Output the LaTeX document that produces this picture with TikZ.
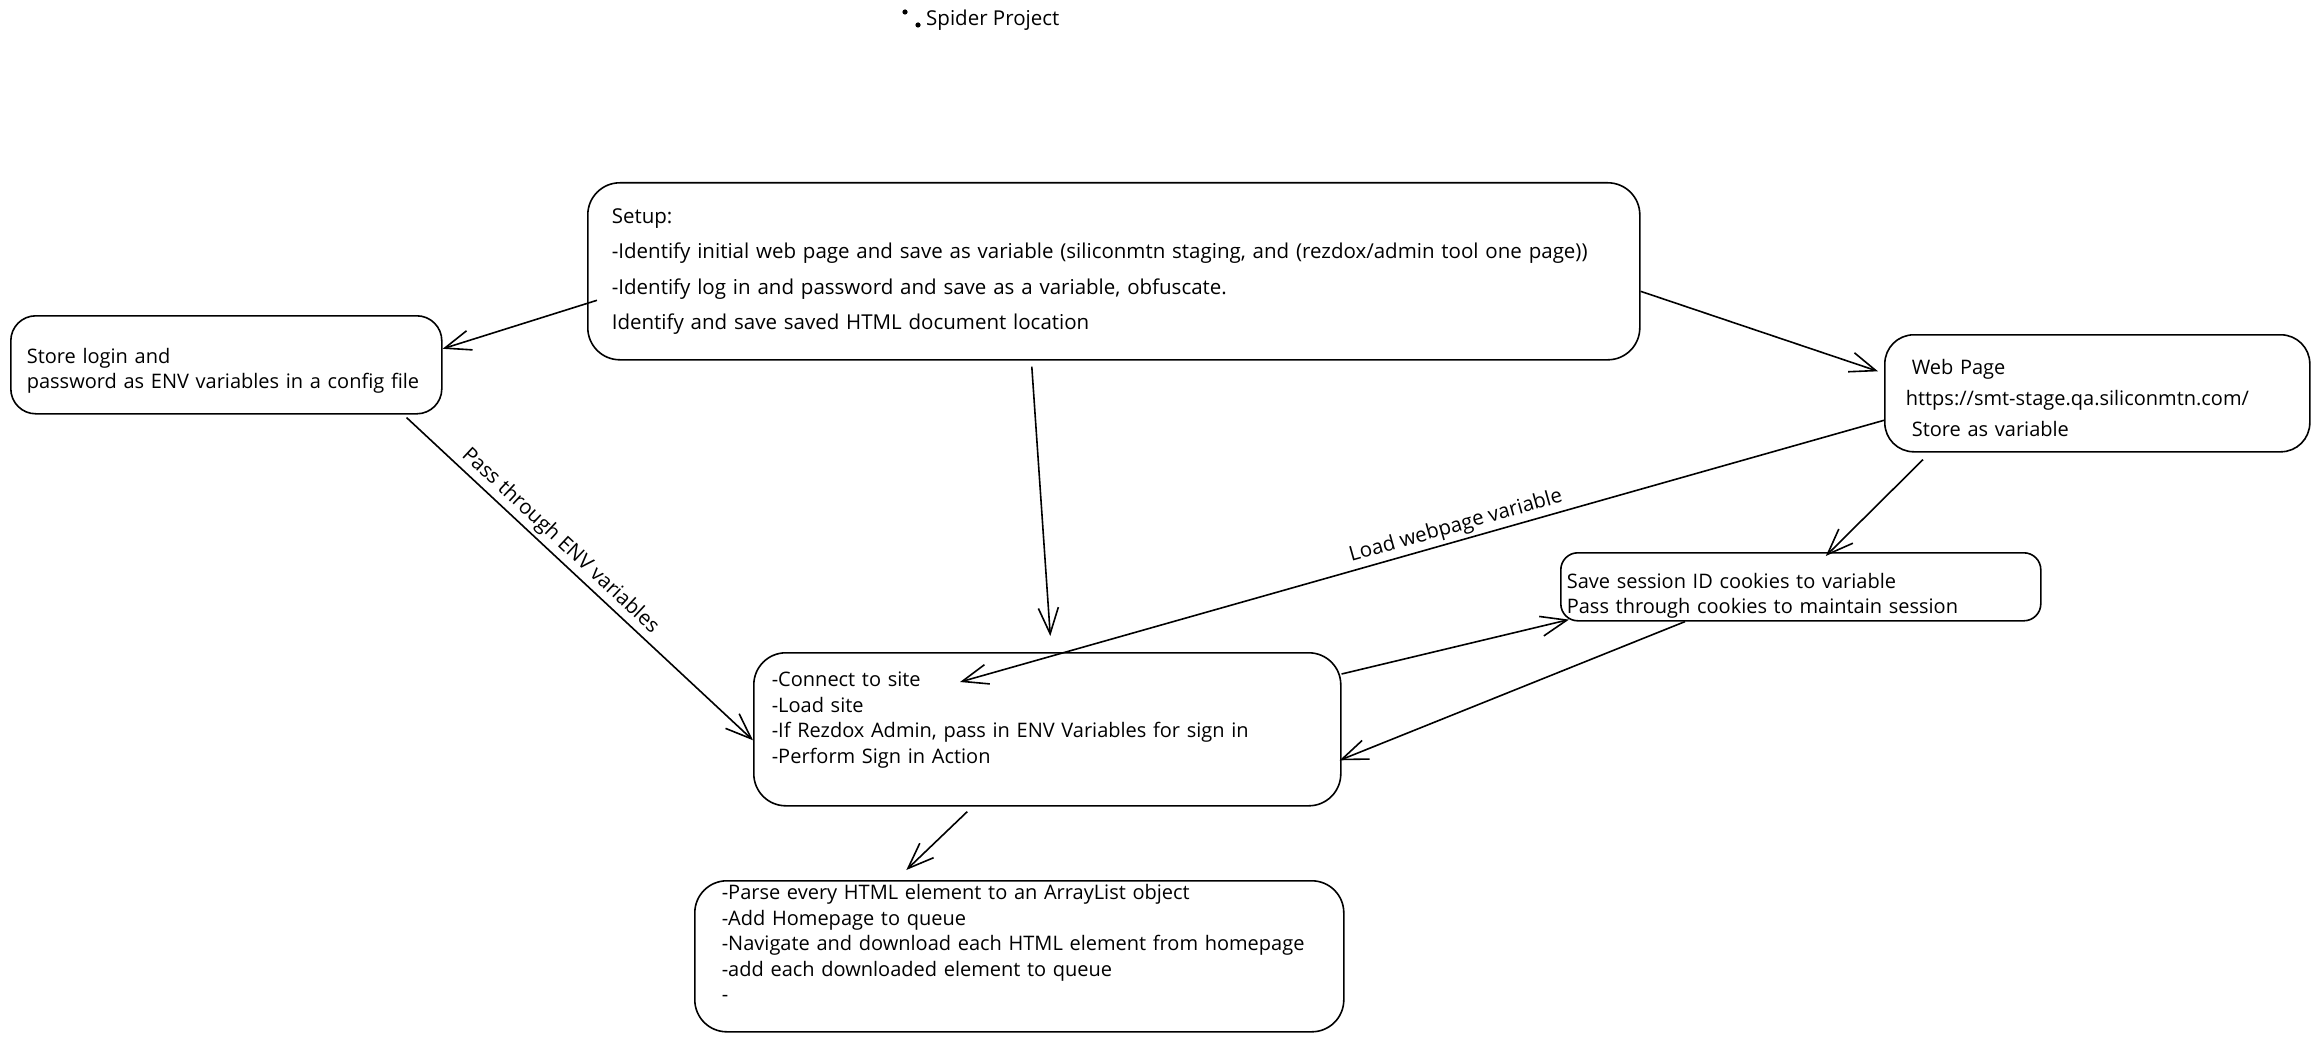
\documentclass[tikz,border=0pt]{standalone}
\usepackage{fontspec}
\setmainfont{Open Sans}
\usetikzlibrary{arrows.meta,positioning}

\begin{document}
\begin{tikzpicture}[x=1pt,y=-1pt,
  box/.style={draw,rounded corners=32pt,line width=1.6pt,anchor=north west,align=left,inner ysep=0pt,font=\fontsize{20}{25.5}\selectfont},
  arr/.style={-{Straight Barb[length=26pt,width=20pt]},line width=1.6pt},
  lbl/.style={font=\fontsize{20.5}{25.5}\selectfont,sloped,above}]
\useasboundingbox (0,0) rectangle (2319,1043);

\node[font=\fontsize{20.5}{25.5}\selectfont,anchor=west,inner sep=0pt] (title) at (926,20) {Spider Project};%
\fill ([xshift=-8pt,yshift=-5pt]title.west) circle (2.6pt);%
\fill ([xshift=-21pt,yshift=8pt]title.west) circle (2.6pt);%

\node[box,minimum height=177pt,text width=1004pt,inner xsep=24pt,font=\fontsize{20.5}{35.5}\selectfont] (setup) at (587,182) {Setup:\\
-Identify initial web page and save as variable (siliconmtn staging, and (rezdox/admin tool one page))\\
-Identify log in and password and save as a variable, obfuscate.\\
Identify and save saved HTML document location};
\node[box,rounded corners=25pt,minimum height=98pt,text width=399pt,inner xsep=16pt] (login) at (10,315) {\rule{0pt}{27pt}Store login and\\ password as ENV variables in a config file};
\node[box,rounded corners=29pt,minimum height=117pt,text width=383pt,inner xsep=21pt,font=\fontsize{20}{31}\selectfont] (web) at (1884,334) {\rule{0pt}{24pt}\hspace*{6pt}Web Page\\ https://smt-stage.qa.siliconmtn.com/\\ \hspace*{6pt}Store as variable};
\node[box,rounded corners=17pt,minimum height=68pt,text width=468pt,inner xsep=6pt] (session) at (1560,552) {\rule{0pt}{33pt}Save session ID cookies to variable\\ Pass through cookies to maintain session};
\node[box,minimum height=153pt,text width=551pt,inner xsep=18pt] (connect) at (753,652) {-Connect to site\\ -Load site\\ -If Rezdox Admin, pass in ENV Variables for sign in\\ -Perform Sign in Action\rule[-23pt]{0pt}{23pt}};
\node[box,minimum height=151pt,text width=595pt,inner xsep=27pt] (parse) at (694,880) {-Parse every HTML element to an ArrayList object\\ -Add Homepage to queue\\ -Navigate and download each HTML element from homepage\\ -add each downloaded element to queue\\ -\rule[-26pt]{0pt}{26pt}};

\draw[arr] ([xshift=10pt,yshift=-29pt]setup.west) -- ([yshift=16pt]login.east);
\draw[arr] ([yshift=-20pt]setup.east) -- ([xshift=-6pt,yshift=22pt]web.west);
\draw[arr] ([xshift=-82pt,yshift=-6pt]setup.south) -- ([xshift=3pt,yshift=16pt]connect.north);
\draw[arr] ([xshift=-36pt,yshift=-3pt]login.south east) -- ([yshift=-11pt]connect.west) node[lbl,pos=.415] (envlbl) {Pass through ENV variables};
\draw[arr] ([yshift=-27pt]web.west) -- ([xshift=207pt,yshift=-30pt]connect.north west) node[lbl,pos=.459] (loadlbl) {Load webpage variable};
\draw[arr] ([xshift=39pt,yshift=-7pt]web.south west) -- ([xshift=25pt,yshift=-4pt]session.north);
\draw[arr] ([yshift=-22pt]connect.north east) -- ([xshift=9pt,yshift=2pt]session.south west);
\draw[arr] ([xshift=125pt]session.south west) -- ([xshift=-2pt,yshift=-31pt]connect.east);
\draw[arr] ([xshift=-80pt,yshift=-5pt]connect.south) -- ([xshift=-113pt,yshift=10pt]parse.north);

\end{tikzpicture}
\end{document}
